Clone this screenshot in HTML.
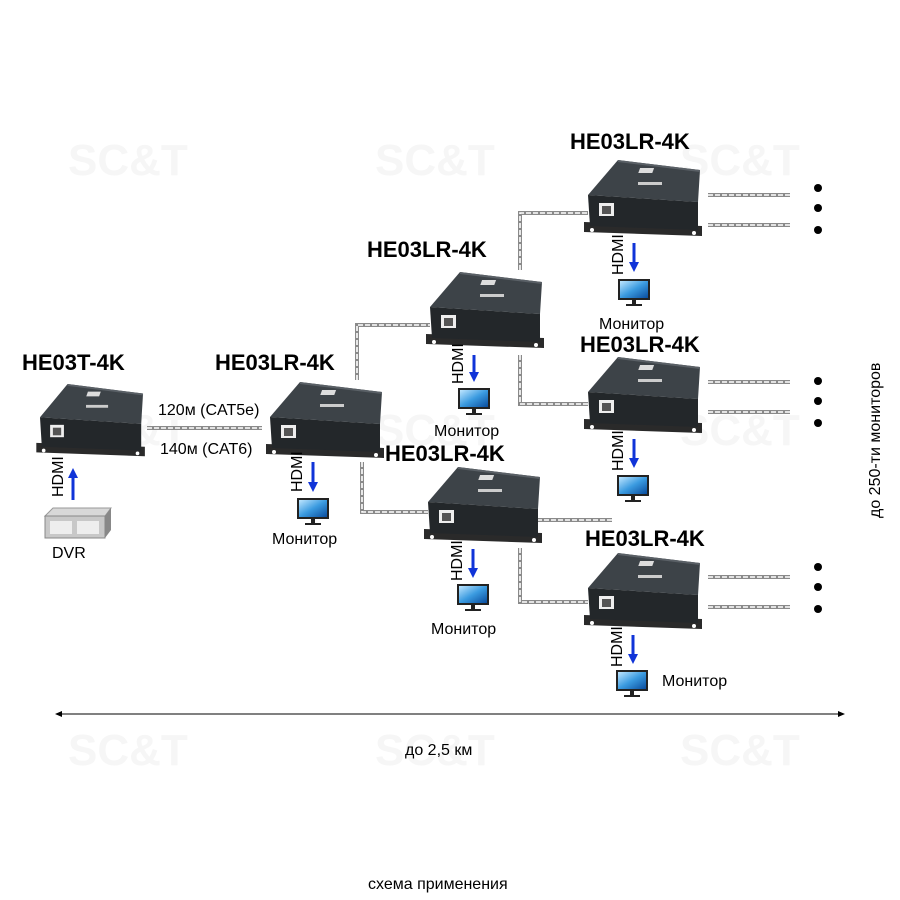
<!DOCTYPE html>
<html><head><meta charset="utf-8"><style>
html,body{margin:0;padding:0;background:#fff}
svg{display:block}
text{font-family:"Liberation Sans",sans-serif}
.t{font-weight:bold;font-size:22px;fill:#000}
.l{font-size:16px;fill:#000}
.wm{font-weight:bold;font-size:44px;fill:#f6f6f6}
.c1{fill:none;stroke:#8a8a8a;stroke-width:4}
.c2{fill:none;stroke:#fff;stroke-width:1.6;stroke-dasharray:5 2}
</style></head><body>
<svg width="900" height="900" viewBox="0 0 900 900" xmlns="http://www.w3.org/2000/svg">
<defs>
<linearGradient id="scr" x1="0" y1="0" x2="1" y2="1"><stop offset="0" stop-color="#bfe6ff"/><stop offset="0.5" stop-color="#3b9be0"/><stop offset="1" stop-color="#0a4d9e"/></linearGradient>
<g id="dev">
<polygon points="-4,62 114,66 114,76 -4,72" fill="#2a2a2a"/>
<circle cx="4" cy="70" r="2" fill="#fff"/><circle cx="106" cy="73" r="2" fill="#fff"/>
<polygon points="30,0 112,10 110,42 0,35" fill="#3d4348"/>
<polygon points="0,35 110,42 110,70 2,66" fill="#23272a"/>
<polygon points="30,0 112,10 112,12 30,2" fill="#5a6066"/>
<rect x="55" y="8" width="14" height="5" fill="#ddd" transform="skewX(-20)"/>
<rect x="50" y="22" width="24" height="3" fill="#ccc"/>
<rect x="11" y="43" width="15" height="13" fill="#eee"/>
<rect x="14" y="46" width="9" height="8" fill="#555"/>
</g>
<g id="mon">
<rect x="0" y="0" width="32" height="21" fill="#222"/>
<rect x="2" y="2" width="28" height="17" fill="url(#scr)"/>
<rect x="14" y="21" width="4" height="4" fill="#222"/>
<rect x="8" y="25" width="16" height="2" fill="#222"/>
</g>
<marker id="ah" markerUnits="userSpaceOnUse" markerWidth="10" markerHeight="10" refX="2" refY="5" orient="auto"><path d="M0,0 L10,5 L0,10z" fill="#1034d8"/></marker>
</defs>

<g class="wm">
<text x="68" y="175">SC&amp;T</text><text x="375" y="175">SC&amp;T</text><text x="680" y="175">SC&amp;T</text>
<text x="68" y="445">SC&amp;T</text><text x="375" y="445">SC&amp;T</text><text x="680" y="445">SC&amp;T</text>
<text x="68" y="765">SC&amp;T</text><text x="375" y="765">SC&amp;T</text><text x="680" y="765">SC&amp;T</text>
</g>

<g>
<path class="c1" d="M147,428 H262"/><path class="c2" d="M147,428 H262"/>
<path class="c1" d="M357,380 V325 H430"/><path class="c2" d="M357,380 V325 H430"/>
<path class="c1" d="M362,462 V512 H428"/><path class="c2" d="M362,462 V512 H428"/>
<path class="c1" d="M520,270 V213 H588"/><path class="c2" d="M520,270 V213 H588"/>
<path class="c1" d="M520,355 V404 H588"/><path class="c2" d="M520,355 V404 H588"/>
<path class="c1" d="M537,520 H612"/><path class="c2" d="M537,520 H612"/>
<path class="c1" d="M520,548 V602 H588"/><path class="c2" d="M520,548 V602 H588"/>
<path class="c1" d="M708,195 H790 M708,225 H790 M708,382 H790 M708,412 H790 M708,577 H790 M708,607 H790"/>
<path class="c2" d="M708,195 H790 M708,225 H790 M708,382 H790 M708,412 H790 M708,577 H790 M708,607 H790"/>
</g>
<g fill="#000">
<circle cx="818" cy="188" r="4"/><circle cx="818" cy="208" r="4"/><circle cx="818" cy="230" r="4"/>
<circle cx="818" cy="381" r="4"/><circle cx="818" cy="401" r="4"/><circle cx="818" cy="423" r="4"/>
<circle cx="818" cy="567" r="4"/><circle cx="818" cy="587" r="4"/><circle cx="818" cy="609" r="4"/>
</g>

<use href="#dev" transform="translate(40,384) scale(0.92,0.95)"/>
<use href="#dev" transform="translate(270,382)"/>
<use href="#dev" transform="translate(430,272)"/>
<use href="#dev" transform="translate(588,160)"/>
<use href="#dev" transform="translate(588,357)"/>
<use href="#dev" transform="translate(428,467)"/>
<use href="#dev" transform="translate(588,553)"/>

<text class="t" x="22" y="370">HE03T-4K</text>
<text class="t" x="215" y="370">HE03LR-4K</text>
<text class="t" x="367" y="257">HE03LR-4K</text>
<text class="t" x="570" y="149">HE03LR-4K</text>
<text class="t" x="580" y="352">HE03LR-4K</text>
<text class="t" x="385" y="461">HE03LR-4K</text>
<text class="t" x="585" y="546">HE03LR-4K</text>

<text class="l" x="158" y="415" font-size="15">120м (CAT5e)</text>
<text class="l" x="160" y="454" font-size="15">140м (CAT6)</text>

<g transform="translate(45,508)">
<polygon points="8,0 66,0 60,8 0,8" fill="#d8d8d8" stroke="#999"/>
<rect x="0" y="8" width="60" height="22" fill="#c8c8c8" stroke="#888"/>
<polygon points="60,8 66,0 66,22 60,30" fill="#888"/>
<rect x="5" y="13" width="22" height="13" fill="#eee"/><rect x="32" y="13" width="22" height="13" fill="#eee"/>
</g>
<text class="l" x="52" y="558">DVR</text>
<line x1="73" y1="500" x2="73" y2="476" stroke="#1034d8" stroke-width="3" marker-end="url(#ah)"/>
<text class="l" font-size="12" transform="translate(63,497) rotate(-90)">HDMI</text>

<g>
<line x1="313" y1="462" x2="313" y2="484" stroke="#1034d8" stroke-width="3" marker-end="url(#ah)"/>
<text class="l" font-size="12" transform="translate(302,492) rotate(-90)">HDMI</text>
<use href="#mon" x="297" y="498"/><text class="l" x="272" y="544">Монитор</text>

<line x1="474" y1="355" x2="474" y2="374" stroke="#1034d8" stroke-width="3" marker-end="url(#ah)"/>
<text class="l" font-size="12" transform="translate(463,384) rotate(-90)">HDMI</text>
<use href="#mon" x="458" y="388"/><text class="l" x="434" y="436">Монитор</text>

<line x1="634" y1="243" x2="634" y2="264" stroke="#1034d8" stroke-width="3" marker-end="url(#ah)"/>
<text class="l" font-size="12" transform="translate(623,275) rotate(-90)">HDMI</text>
<use href="#mon" x="618" y="279"/><text class="l" x="599" y="329">Монитор</text>

<line x1="634" y1="439" x2="634" y2="460" stroke="#1034d8" stroke-width="3" marker-end="url(#ah)"/>
<text class="l" font-size="12" transform="translate(623,471) rotate(-90)">HDMI</text>
<use href="#mon" x="617" y="475"/>

<line x1="473" y1="549" x2="473" y2="570" stroke="#1034d8" stroke-width="3" marker-end="url(#ah)"/>
<text class="l" font-size="12" transform="translate(462,581) rotate(-90)">HDMI</text>
<use href="#mon" x="457" y="584"/><text class="l" x="431" y="634">Монитор</text>

<line x1="633" y1="635" x2="633" y2="656" stroke="#1034d8" stroke-width="3" marker-end="url(#ah)"/>
<text class="l" font-size="12" transform="translate(622,667) rotate(-90)">HDMI</text>
<use href="#mon" x="616" y="670"/><text class="l" x="662" y="686">Монитор</text>
</g>

<line x1="56" y1="714" x2="844" y2="714" stroke="#000" stroke-width="1"/>
<path d="M55,714 l7,-3 v6z M845,714 l-7,-3 v6z" fill="#000"/>
<text class="l" x="405" y="755" font-size="15">до 2,5 км</text>
<text class="l" font-size="15" transform="translate(880,518) rotate(-90)">до 250-ти мониторов</text>
<text class="l" x="368" y="889" font-size="14">схема применения</text>
</svg>
</body></html>
